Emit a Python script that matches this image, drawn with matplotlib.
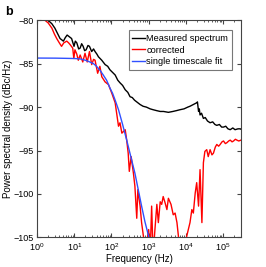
import numpy as np
import matplotlib
matplotlib.use("Agg")
import matplotlib.pyplot as plt

plt.rcParams['font.family'] = ['Liberation Sans', 'DejaVu Sans']
plt.rcParams['mathtext.fontset'] = 'custom'
plt.rcParams['mathtext.rm'] = 'Liberation Sans'
plt.rcParams['mathtext.it'] = 'Liberation Sans:italic'

# log10(frequency / Hz) and level (dBc/Hz)
meas_logf = [0.15, 0.30, 0.40, 0.48, 0.55, 0.62, 0.71, 0.76, 0.81, 0.87, 0.93, 0.995, 1.03, 1.07, 1.12,
             1.16, 1.20, 1.24, 1.28, 1.32, 1.37, 1.41, 1.47, 1.52, 1.56, 1.61, 1.65, 1.74, 1.83, 1.90,
             1.96, 2.03, 2.10, 2.17, 2.23, 2.30, 2.37, 2.44, 2.50, 2.56, 2.62, 2.68, 2.77, 2.85, 2.94,
             3.04, 3.12, 3.21, 3.31, 3.40, 3.53, 3.65, 3.75, 3.84, 3.95, 4.05, 4.11, 4.20, 4.29, 4.31,
             4.34, 4.36, 4.38, 4.42, 4.47, 4.52, 4.58, 4.65, 4.72, 4.78, 4.83, 4.90, 4.96, 5.01, 5.07,
             5.13, 5.19, 5.26, 5.32, 5.40, 5.46, 5.50]
meas_db = [-78.5, -80.0, -80.4, -80.9, -81.5, -82.1, -82.4, -82.0, -81.7, -81.9, -82.1, -83.0, -82.4, -82.6, -83.3,
           -83.2, -82.7, -83.0, -83.5, -83.4, -82.9, -83.0, -83.6, -83.3, -83.6, -83.9, -84.2, -84.6, -85.1, -85.3,
           -85.7, -86.0, -86.3, -86.9, -87.2, -87.5, -88.0, -88.3, -88.8, -88.9, -89.2, -89.4, -89.7, -89.9, -90.0,
           -90.2, -90.3, -90.4, -90.5, -90.5, -90.6, -90.5, -90.4, -90.3, -90.2, -90.0, -89.9, -89.7, -89.5, -89.4,
           -90.5, -90.2, -90.9, -90.7, -91.3, -91.2, -91.6, -91.8, -91.7, -92.0, -92.1, -92.0, -92.3, -92.3, -92.2,
           -92.5, -92.6, -92.4, -92.6, -92.5, -92.5, -92.6]

corr_logf = [0.10, 0.215, 0.30, 0.40, 0.47, 0.53, 0.60, 0.66, 0.72, 0.80, 0.85, 0.89, 0.96, 0.99, 1.02,
             1.07, 1.11, 1.16, 1.23, 1.29, 1.35, 1.41, 1.47, 1.52, 1.56, 1.63, 1.69, 1.74, 1.83, 1.92,
             2.01, 2.10, 2.19, 2.23, 2.28, 2.37, 2.41, 2.45, 2.48, 2.53, 2.59, 2.63, 2.68, 2.71, 2.77,
             2.81, 2.86, 2.90, 2.95, 3.00, 3.04, 3.08, 3.12, 3.17, 3.22, 3.26, 3.31, 3.35, 3.39, 3.44,
             3.49, 3.53, 3.60, 3.66, 3.71, 3.76, 3.80, 3.85, 3.95, 4.02, 4.11, 4.16, 4.20, 4.25, 4.29,
             4.34, 4.38, 4.43, 4.47, 4.51, 4.56, 4.60, 4.65, 4.70, 4.74, 4.79, 4.83, 4.88, 4.92, 4.97,
             5.01, 5.06, 5.10, 5.15, 5.19, 5.24, 5.28, 5.33, 5.37, 5.42, 5.48]
corr_db = [-78.5, -80.0, -80.3, -80.9, -81.6, -82.1, -82.6, -83.0, -82.6, -82.4, -82.6, -82.8, -83.2, -84.4, -83.4,
           -83.9, -84.6, -84.0, -84.8, -83.8, -84.8, -83.6, -85.1, -84.5, -84.6, -86.1, -85.3, -86.5, -87.1, -87.4,
           -88.4, -89.5, -92.2, -91.8, -93.0, -92.6, -93.8, -95.3, -97.4, -95.7, -97.6, -99.1, -102.8, -99.5, -101.4,
           -103.3, -104.9, -107.0, -105.5, -104.1, -107.0, -101.4, -107.0, -104.0, -101.2, -103.3, -100.9, -101.2, -100.3, -101.0,
           -101.8, -100.5, -101.2, -102.4, -102.2, -103.3, -104.9, -107.0, -107.0, -104.9, -103.3, -101.8, -102.2, -99.9, -98.7,
           -101.4, -97.2, -103.3, -96.4, -95.1, -94.9, -95.7, -94.9, -95.5, -95.3, -94.6, -94.3, -94.5, -94.3, -94.0,
           -93.9, -94.2, -94.1, -93.9, -93.8, -94.0, -93.9, -93.7, -93.8, -93.9, -93.8]

fit_logf = [0.0, 0.50, 1.00, 1.16, 1.30, 1.42, 1.52, 1.60, 1.70, 1.78, 1.87, 1.96, 2.03, 2.10, 2.19,
            2.30, 2.41, 2.52, 2.63, 2.72, 2.81, 2.90, 3.00, 3.05]
fit_db = [-84.35, -84.36, -84.4, -84.45, -84.6, -84.8, -85.0, -85.3, -85.8, -86.3, -86.9, -87.8, -88.4, -89.2, -90.3,
          -92.0, -93.8, -95.7, -97.6, -99.5, -101.4, -103.2, -104.9, -106.0]

fig = plt.figure(figsize=(2.66, 2.67), dpi=100)
ax = fig.add_axes([0.139, 0.111, 0.767, 0.813])

ax.semilogx(10 ** np.array(meas_logf), meas_db, color='black', lw=1.0, label='Measured spectrum')
ax.semilogx(10 ** np.array(corr_logf), corr_db, color='red', lw=1.0, label='corrected')
ax.semilogx(10 ** np.array(fit_logf), fit_db, color='#3050ff', lw=1.0, label='single timescale fit')

ax.set_xlim(1, 10 ** 5.48)
ax.set_ylim(-105, -80)
ax.set_yticks([-105, -100, -95, -90, -85, -80])
ax.tick_params(which='both', direction='in', top=True, right=True, labelsize=6.5, pad=2.5, color='#444444')
ax.tick_params(which='major', length=3)
ax.tick_params(which='minor', length=1.5)
for s in ax.spines.values():
    s.set_color('#444444')
    s.set_linewidth(0.8)

ax.set_xlabel('Frequency (Hz)', fontsize=7, labelpad=1)
ax.set_ylabel('Power spectral density (dBc/Hz)', fontsize=7)
ax.yaxis.set_label_coords(-0.118, 0.5)

leg = ax.legend(loc='upper right', bbox_to_anchor=(0.956, 0.955), fontsize=6.7, fancybox=False,
                handlelength=1.3, handletextpad=0.2, borderpad=0.4, labelspacing=0.3, borderaxespad=0)
leg.get_frame().set_edgecolor('#555555')
leg.get_frame().set_linewidth(0.8)

fig.text(0.02, 0.955, 'b', fontsize=9, fontweight='bold', va='center')

fig.savefig('out.png', dpi=100)
